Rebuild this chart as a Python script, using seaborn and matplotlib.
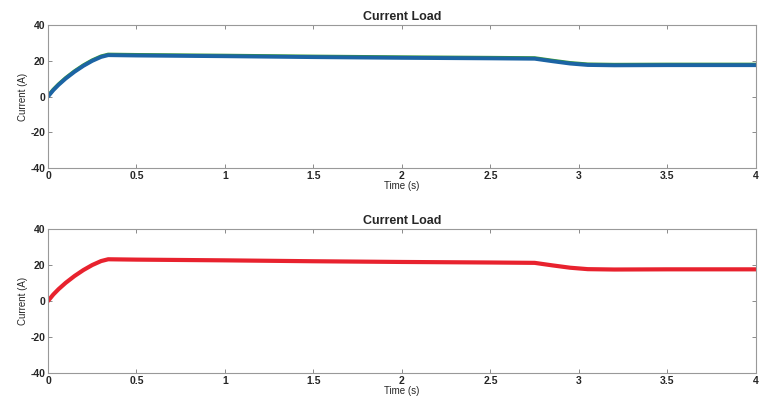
import matplotlib
matplotlib.use("Agg")
import matplotlib.pyplot as plt
import seaborn as sns
import pandas as pd

# Sampled load current over time (s)
time_s = [0.0, 0.03, 0.06, 0.1, 0.15, 0.2, 0.25, 0.3, 0.34, 0.5, 1.0, 1.5, 2.0,
          2.5, 2.75, 2.85, 2.95, 3.05, 3.2, 3.5, 4.0]
current_ref = [0.4, 4.0, 7.0, 10.5, 14.3, 17.6, 20.4, 22.6, 23.6, 23.4, 23.0, 22.5,
               22.1, 21.8, 21.6, 20.2, 18.9, 18.1, 17.9, 18.0, 18.0]
current_meas = [0.0, 3.6, 6.6, 10.1, 13.9, 17.2, 20.0, 22.2, 23.2, 23.0, 22.6, 22.1,
                21.7, 21.4, 21.2, 19.8, 18.5, 17.7, 17.5, 17.6, 17.6]
current_sim = [0.0, 3.6, 6.6, 10.1, 13.9, 17.2, 20.0, 22.2, 23.2, 23.0, 22.6, 22.1,
               21.7, 21.4, 21.2, 19.8, 18.5, 17.7, 17.5, 17.6, 17.6]

x_ticks = [0, 0.5, 1, 1.5, 2, 2.5, 3, 3.5, 4]
x_tick_labels = ["0", "0.5", "1", "1.5", "2", "2.5", "3", "3.5", "4"]
y_ticks = [-40, -20, 0, 20, 40]
y_tick_labels = ["-40", "-20", "0", "20", "40"]

df = pd.DataFrame({"Time": time_s, "ref": current_ref,
                   "meas": current_meas, "sim": current_sim})

sns.set_style("ticks")
plt.rcParams["font.family"] = ["Liberation Sans", "DejaVu Sans"]

fig = plt.figure(figsize=(7.62, 4.12), dpi=100)
ax_top = fig.add_axes([0.063, 0.592, 0.929, 0.347])
ax_bot = fig.add_axes([0.063, 0.095, 0.929, 0.349])

sns.lineplot(data=df, x="Time", y="ref", ax=ax_top, color="#3a9a3a", linewidth=2.6)
sns.lineplot(data=df, x="Time", y="meas", ax=ax_top, color="#1c64a4", linewidth=2.8)
sns.lineplot(data=df, x="Time", y="sim", ax=ax_bot, color="#e8222e", linewidth=3.0)

for ax in (ax_top, ax_bot):
    ax.set_xlim(0, 4)
    ax.set_ylim(-40, 40)
    ax.set_xticks(x_ticks)
    ax.set_xticklabels(x_tick_labels, fontsize=7.5, fontweight="bold")
    ax.set_yticks(y_ticks)
    ax.set_yticklabels(y_tick_labels, fontsize=7.5, fontweight="bold")
    ax.tick_params(direction="in", length=3, width=0.6, color="#777777",
                   top=True, right=True, pad=2)
    for sp in ax.spines.values():
        sp.set_visible(True)
        sp.set_color("#999999")
        sp.set_linewidth(0.8)
    ax.set_title("Current Load", fontsize=9, fontweight="bold", pad=4)
    ax.set_xlabel("Time (s)", fontsize=7, labelpad=0)
    ax.set_ylabel("Current (A)", fontsize=7, labelpad=2)

fig.savefig("out.png", dpi=100, facecolor="white")
